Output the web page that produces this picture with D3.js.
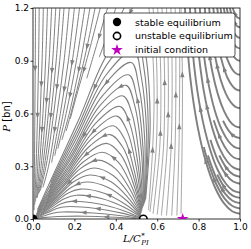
<!DOCTYPE html>
<html>
<head>
<meta charset="utf-8">
<script src="https://cdn.jsdelivr.net/npm/d3@7"></script>
<style>
  body { margin: 0; background: #fff; }
  svg { display: block; }
  text { font-family: "DejaVu Sans", sans-serif; }
</style>
</head>
<body>
<svg id="chart" width="251" height="249"></svg>
<script>
const xTicks = [0, 0.2, 0.4, 0.6, 0.8, 1.0];
const yTicks = [0, 0.3, 0.6, 0.9, 1.2];

const stablePts = [[0, 0]];
const unstablePts = [[0.533, 0]];
const initialPts = [[0.723, 0]];
const legendLabels = ["stable equilibrium", "unstable equilibrium", "initial condition"];

// streamlines, [L/C, P], each one ordered along the flow
const humpLines = [
  [[0.5,0.003],[0.4,0.01],[0.25,0.016],[0.12,0.014],[0.05,0.008],[0.015,0.003]],
  [[0.513,0.004],[0.418,0.02],[0.292,0.034],[0.14,0.04],[0.101,0.034],[0.06,0.02],[0.024,0.008]],
  [[0.514,0.007],[0.424,0.035],[0.304,0.06],[0.16,0.07],[0.115,0.06],[0.069,0.035],[0.027,0.014],[0.007,0.004]],
  [[0.515,0.01],[0.431,0.05],[0.32,0.085],[0.185,0.1],[0.133,0.085],[0.08,0.05],[0.031,0.02]],
  [[0.517,0.014],[0.438,0.068],[0.335,0.115],[0.21,0.135],[0.151,0.115],[0.09,0.068],[0.036,0.027],[0.009,0.007]],
  [[0.518,0.017],[0.444,0.085],[0.347,0.145],[0.23,0.17],[0.166,0.145],[0.099,0.085],[0.039,0.034]],
  [[0.519,0.021],[0.452,0.105],[0.363,0.179],[0.255,0.21],[0.184,0.179],[0.11,0.105],[0.043,0.042],[0.011,0.011]],
  [[0.52,0.025],[0.457,0.125],[0.375,0.213],[0.275,0.25],[0.198,0.213],[0.118,0.125],[0.047,0.05]],
  [[0.521,0.029],[0.463,0.145],[0.387,0.247],[0.295,0.29],[0.212,0.247],[0.127,0.145],[0.05,0.058],[0.013,0.015]],
  [[0.522,0.034],[0.469,0.168],[0.399,0.285],[0.315,0.335],[0.227,0.285],[0.135,0.168],[0.054,0.067]],
  [[0.523,0.038],[0.475,0.19],[0.412,0.323],[0.335,0.38],[0.241,0.323],[0.144,0.19],[0.057,0.076],[0.015,0.019]],
  [[0.524,0.043],[0.481,0.215],[0.424,0.366],[0.355,0.43],[0.256,0.366],[0.153,0.215],[0.06,0.086]],
  [[0.525,0.048],[0.486,0.24],[0.434,0.408],[0.372,0.48],[0.268,0.408],[0.16,0.24],[0.063,0.096],[0.017,0.024]],
  [[0.526,0.053],[0.491,0.265],[0.444,0.451],[0.388,0.53],[0.279,0.451],[0.167,0.265],[0.066,0.106]],
  [[0.527,0.059],[0.499,0.293],[0.456,0.497],[0.405,0.585],[0.292,0.497],[0.174,0.293],[0.069,0.117],[0.018,0.029]],
  [[0.529,0.064],[0.506,0.32],[0.467,0.544],[0.42,0.64],[0.302,0.544],[0.181,0.32],[0.071,0.128]],
  [[0.531,0.07],[0.514,0.35],[0.479,0.595],[0.435,0.7],[0.313,0.595],[0.187,0.35],[0.074,0.14],[0.02,0.035]],
  [[0.533,0.076],[0.524,0.38],[0.491,0.646],[0.45,0.76],[0.324,0.646],[0.194,0.38],[0.077,0.152]],
  [[0.535,0.082],[0.531,0.41],[0.501,0.697],[0.462,0.82],[0.333,0.697],[0.199,0.41],[0.079,0.164],[0.021,0.041]],
  [[0.537,0.089],[0.54,0.445],[0.511,0.757],[0.475,0.89],[0.342,0.757],[0.204,0.445],[0.081,0.178]],
  [[0.539,0.096],[0.549,0.48],[0.522,0.816],[0.487,0.96],[0.351,0.816],[0.209,0.48],[0.083,0.192],[0.022,0.048]],
  [[0.541,0.104],[0.557,0.52],[0.533,0.884],[0.5,1.04],[0.36,0.884],[0.215,0.52],[0.085,0.208]],
  [[0.544,0.112],[0.566,0.56],[0.543,0.952],[0.51,1.12],[0.367,0.952],[0.219,0.56],[0.087,0.224],[0.023,0.056]]
];

const fanLines = [
  [[0.012,1.2],[0.011,0.9],[0.009,0.6],[0.007,0.3],[0.005,0.05]],
  [[0.03,1.2],[0.027,0.9],[0.022,0.6],[0.015,0.3],[0.008,0.08]],
  [[0.05,1.2],[0.044,0.9],[0.035,0.6],[0.023,0.3],[0.012,0.1]],
  [[0.07,1.2],[0.061,0.9],[0.048,0.6],[0.031,0.3],[0.017,0.12]],
  [[0.09,1.2],[0.078,0.9],[0.061,0.6],[0.039,0.3],[0.02,0.12]],
  [[0.11,1.2],[0.095,0.9],[0.074,0.6],[0.047,0.3],[0.025,0.14]],
  [[0.13,1.2],[0.112,0.9],[0.087,0.6],[0.055,0.3],[0.03,0.15]],
  [[0.15,1.2],[0.129,0.9],[0.1,0.6],[0.063,0.3],[0.035,0.16]],
  [[0.175,1.2],[0.15,0.9],[0.116,0.6],[0.075,0.3],[0.048,0.18]],
  [[0.2,1.2],[0.171,0.9],[0.132,0.6],[0.09,0.32]],
  [[0.225,1.2],[0.19,0.9],[0.146,0.6],[0.105,0.36]],
  [[0.25,1.2],[0.21,0.9],[0.16,0.6],[0.12,0.4]],
  [[0.275,1.2],[0.23,0.9],[0.175,0.6],[0.14,0.45]],
  [[0.3,1.2],[0.25,0.92],[0.19,0.63],[0.16,0.5]],
  [[0.325,1.2],[0.27,0.95],[0.21,0.7],[0.18,0.57]],
  [[0.36,1.2],[0.31,1.0],[0.26,0.8]],
  [[0.4,1.2],[0.36,1.05],[0.32,0.92]],
  [[0.44,1.2],[0.4,1.1]],
  [[0.48,1.2],[0.45,1.13]]
];

const midLines = [
  [[0.558,0.05],[0.578,0.4],[0.585,0.7],[0.578,0.95],[0.56,1.2]],
  [[0.565,0.04],[0.595,0.4],[0.6,0.7],[0.595,0.95],[0.58,1.2]],
  [[0.58,0.03],[0.612,0.4],[0.618,0.7],[0.614,0.95],[0.602,1.2]],
  [[0.6,0.025],[0.63,0.4],[0.636,0.7],[0.633,0.95],[0.623,1.2]],
  [[0.62,0.02],[0.648,0.4],[0.654,0.7],[0.652,0.95],[0.645,1.2]],
  [[0.645,0.02],[0.667,0.4],[0.672,0.7],[0.671,0.95],[0.666,1.2]],
  [[0.67,0.02],[0.686,0.4],[0.69,0.7],[0.69,0.95],[0.687,1.2]],
  [[0.695,0.02],[0.705,0.4],[0.708,0.7],[0.709,0.95],[0.708,1.2]],
  [[0.715,0.03],[0.72,0.4],[0.722,0.7],[0.72,0.95],[0.715,1.2]]
];

const rightLines = [
  [[1.0,0.03],[0.962,0.044],[0.924,0.087],[0.882,0.172],[0.838,0.314],[0.795,0.527],[0.759,0.811],[0.734,1.2]],
  [[1.0,0.06],[0.963,0.074],[0.926,0.116],[0.885,0.199],[0.842,0.338],[0.825,0.41]],
  [[1.0,0.09],[0.964,0.104],[0.928,0.144],[0.888,0.226],[0.845,0.362]],
  [[1.0,0.12],[0.964,0.133],[0.929,0.173],[0.89,0.253]],
  [[1.0,0.15],[0.965,0.163],[0.931,0.202],[0.892,0.28],[0.852,0.41],[0.812,0.605],[0.779,0.865],[0.758,1.2]],
  [[1.0,0.2],[0.967,0.213],[0.934,0.25],[0.896,0.325],[0.857,0.45]],
  [[1.0,0.24],[0.968,0.252],[0.936,0.288],[0.9,0.361]],
  [[1.0,0.28],[0.969,0.292],[0.938,0.327],[0.903,0.397],[0.867,0.514],[0.831,0.69],[0.802,0.924],[0.783,1.2]],
  [[1.0,0.34],[0.97,0.35],[0.941,0.384],[0.908,0.451],[0.873,0.562]],
  [[1.0,0.4],[0.972,0.41],[0.944,0.442],[0.913,0.505],[0.88,0.61],[0.848,0.767],[0.821,0.977],[0.806,1.2]],
  [[1.0,0.46],[0.973,0.47],[0.947,0.5],[0.918,0.559]],
  [[1.0,0.52],[0.975,0.529],[0.95,0.557],[0.923,0.613],[0.894,0.706],[0.865,0.846],[0.842,1.032],[0.83,1.2]],
  [[1.0,0.63],[0.978,0.638],[0.956,0.663],[0.932,0.712],[0.906,0.794],[0.881,0.917],[0.861,1.081],[0.851,1.2]],
  [[1.0,0.73],[0.981,0.737],[0.962,0.759],[0.94,0.802],[0.918,0.874],[0.896,0.982],[0.878,1.126],[0.871,1.2]],
  [[1.0,0.82],[0.983,0.826],[0.966,0.845],[0.948,0.883],[0.928,0.946],[0.909,1.04],[0.89,1.2]],
  [[1.0,0.9],[0.985,0.906],[0.971,0.922],[0.954,0.955],[0.937,1.01],[0.92,1.093],[0.906,1.2]],
  [[1.0,0.97],[0.987,0.975],[0.975,0.989],[0.96,1.018],[0.945,1.066],[0.931,1.138],[0.922,1.2]],
  [[1.0,1.03],[0.989,1.034],[0.978,1.047],[0.965,1.072],[0.952,1.114],[0.936,1.2]],
  [[1.0,1.09],[0.99,1.094],[0.981,1.104],[0.97,1.126],[0.959,1.162],[0.951,1.2]],
  [[1.0,1.14],[0.992,1.143],[0.983,1.152],[0.974,1.171],[0.965,1.2]]
];

const W = 251, H = 249;
const margin = { top: 8, right: 11, bottom: 30, left: 33 };
const svg = d3.select("#chart");

const x = d3.scaleLinear().domain([0, 1]).range([margin.left, W - margin.right]);
const y = d3.scaleLinear().domain([0, 1.2]).range([H - margin.bottom, margin.top]);

svg.append("defs").append("clipPath").attr("id", "plotclip")
  .append("rect")
  .attr("x", x(0)).attr("y", y(1.2))
  .attr("width", x(1) - x(0)).attr("height", y(0) - y(1.2));

const grey = "#808080";
const line = d3.line().x(d => x(d[0])).y(d => y(d[1])).curve(d3.curveCatmullRom.alpha(0.5));

const plot = svg.append("g").attr("clip-path", "url(#plotclip)");

function drawStreams(data, width) {
  let g = plot.append("g");
  g.selectAll("path.stream")
    .data(data)
    .enter().append("path")
    .attr("class", "stream")
    .attr("d", line)
    .attr("fill", "none")
    .attr("stroke", grey)
    .attr("stroke-width", width);

  // one arrow head per line, staggered so they do not line up
  g.selectAll("path.stream").each(function (d, i) {
    let len = this.getTotalLength();
    let at = len * (0.3 + 0.4 * ((i * 0.618) % 1));
    let p1 = this.getPointAtLength(at);
    let p2 = this.getPointAtLength(Math.min(len, at + 1));
    let ang = Math.atan2(p2.y - p1.y, p2.x - p1.x) * 180 / Math.PI;
    g.append("path")
      .attr("d", "M3,0L-3,-2.2L-3,2.2Z")
      .attr("fill", grey)
      .attr("transform", `translate(${p1.x},${p1.y}) rotate(${ang})`);
  });
}

drawStreams(fanLines, 1.0);
drawStreams(humpLines, 1.1);
drawStreams(midLines, 0.7);
drawStreams(rightLines, 1.9);

// axes
const xAxis = d3.axisBottom(x).tickValues(xTicks).tickFormat(d3.format(".1f"))
  .tickSizeInner(2.5).tickSizeOuter(0).tickPadding(2);
const yAxis = d3.axisLeft(y).tickValues(yTicks).tickFormat(d3.format(".1f"))
  .tickSizeInner(2.5).tickSizeOuter(0).tickPadding(1.5);

let gx = svg.append("g").attr("transform", `translate(0,${y(0)})`).call(xAxis);
let gy = svg.append("g").attr("transform", `translate(${x(0)},0)`).call(yAxis);
[gx, gy].forEach(g => {
  g.select(".domain").remove();
  g.selectAll("line").attr("stroke", "#000").attr("stroke-width", 0.8);
  g.selectAll("text").attr("fill", "#000").style("font-size", "9px")
    .style("font-family", "DejaVu Sans");
});

svg.append("rect")
  .attr("x", x(0)).attr("y", y(1.2))
  .attr("width", x(1) - x(0)).attr("height", y(0) - y(1.2))
  .attr("fill", "none").attr("stroke", "#000").attr("stroke-width", 0.8);

// equilibria
const marks = svg.append("g").attr("clip-path", "url(#plotclip)");
marks.selectAll("circle.stable").data(stablePts).enter().append("circle")
  .attr("cx", d => x(d[0])).attr("cy", d => y(d[1])).attr("r", 4.5).attr("fill", "#000");
marks.selectAll("circle.unstable").data(unstablePts).enter().append("circle")
  .attr("cx", d => x(d[0])).attr("cy", d => y(d[1])).attr("r", 3.8)
  .attr("fill", "none").attr("stroke", "#000").attr("stroke-width", 1.6);
const star = d3.symbol().type(d3.symbolStar).size(42);
marks.selectAll("path.init").data(initialPts).enter().append("path")
  .attr("d", star).attr("fill", "#bf00bf")
  .attr("transform", d => `translate(${x(d[0])},${y(d[1])})`);

// axis labels
svg.append("text")
  .attr("transform", `translate(10,${(y(0) + y(1.2)) / 2 + 3}) rotate(-90)`)
  .attr("text-anchor", "middle").style("font-size", "10px")
  .call(t => {
    t.append("tspan").text("P").style("font-style", "italic").style("font-family", "DejaVu Serif");
    t.append("tspan").text(" [bn]");
  });

const xl = svg.append("g").attr("transform", `translate(${(x(0) + x(1)) / 2},242)`);
const xlMain = xl.append("text").style("font-family", "DejaVu Serif").style("font-style", "italic")
  .style("font-size", "10px").text("L/C");
let mw = xlMain.node().getComputedTextLength();
xl.append("text").style("font-family", "DejaVu Serif").style("font-size", "7px")
  .attr("x", mw + 0.5).attr("y", -4).text("*");
xl.append("text").style("font-family", "DejaVu Serif").style("font-style", "italic").style("font-size", "7px")
  .attr("x", mw + 0.5).attr("y", 2.5).text("PI");
let bw = xl.node().getBBox().width;
xl.selectAll("text").attr("dx", -bw / 2);

// legend
const lg = svg.append("g").attr("transform", "translate(104,13)");
lg.append("rect").attr("width", 131).attr("height", 44).attr("rx", 2.5)
  .attr("fill", "#fff").attr("stroke", "#222").attr("stroke-width", 0.8);
lg.append("circle").attr("cx", 13).attr("cy", 9).attr("r", 4.2).attr("fill", "#000");
lg.append("circle").attr("cx", 13).attr("cy", 23).attr("r", 3.6)
  .attr("fill", "none").attr("stroke", "#000").attr("stroke-width", 1.6);
lg.append("path").attr("d", star).attr("fill", "#bf00bf").attr("transform", "translate(13,37)");
lg.selectAll("text.lab").data(legendLabels).enter().append("text")
  .attr("class", "lab")
  .attr("x", 31).attr("y", (d, i) => 12.5 + i * 13.5)
  .style("font-size", "9.5px").attr("fill", "#000")
  .text(d => d);
</script>
</body>
</html>
